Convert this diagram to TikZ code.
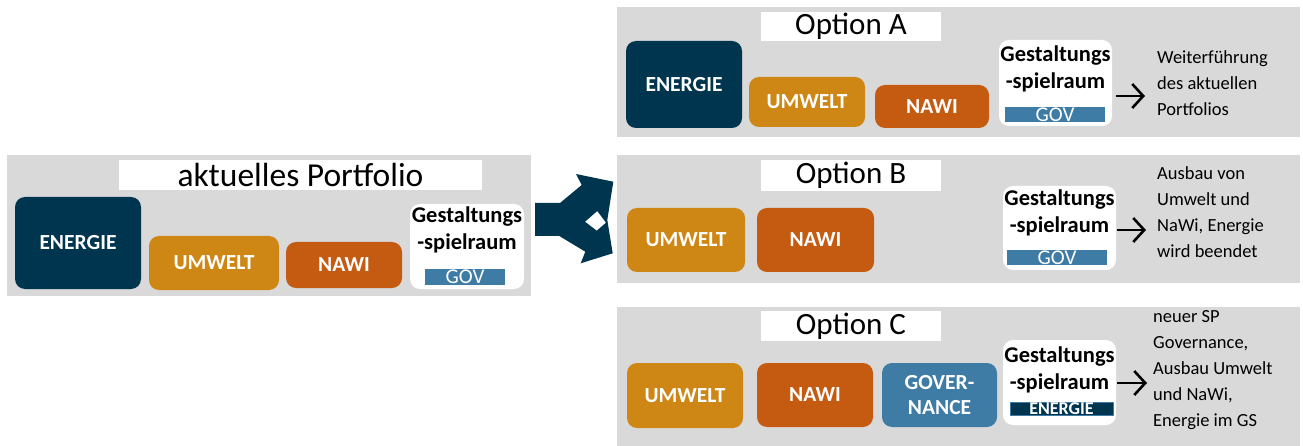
\documentclass[tikz,border=0pt]{standalone}
\usepackage{fontspec}
\setmainfont{Carlito}
\usetikzlibrary{arrows.meta}
\definecolor{navy}{HTML}{003550}
\definecolor{umw}{HTML}{CE8614}
\definecolor{nawi}{HTML}{C55A11}
\definecolor{govc}{HTML}{3E7CA6}
\definecolor{panelc}{HTML}{D9D9D9}
\tikzset{
  panel/.style={fill=panelc, draw=none, inner sep=0, anchor=north west},
  titlebox/.style={fill=white, inner sep=0, minimum width=180, font=\fontsize{31}{33}\selectfont},
  box/.style={rounded corners=10pt, inner sep=0, text=white, font=\bfseries\fontsize{21.5}{25}\selectfont, align=center},
  gsbox/.style={fill=white, rounded corners=10pt, inner sep=0},
  gstext/.style={inner sep=0, align=center, font=\bfseries\fontsize{22.5}{27}\selectfont},
  bar/.style={inner sep=0, text=white, font=\fontsize{21}{21}\selectfont},
  desc/.style={inner sep=0, align=left, anchor=west, font=\fontsize{18.5}{25.8}\selectfont},
  garrow/.style={line width=2.6pt, -{Straight Barb[length=11pt,width=24pt]}}
}
\begin{document}
\begin{tikzpicture}[x=1pt,y=-1pt]
\useasboundingbox (0,0) rectangle (1303,446);
% ---------- left panel ----------
\node[panel, minimum width=524, minimum height=141] (lp) at (7,155) {};
\node[titlebox, minimum width=363, minimum height=30, font=\fontsize{33.5}{35}\selectfont] (lt) at (300.5,175) {aktuelles Portfolio};
\node[box, fill=navy, minimum width=126, minimum height=92] (le) at (78,243) {ENERGIE};
\node[box, fill=umw, minimum width=130, minimum height=54] (lu) at (214,263) {UMWELT};
\node[box, fill=nawi, minimum width=116, minimum height=46] (ln) at (344,265) {NAWI};
\node[gsbox, minimum width=114, minimum height=85] (lg) at (467,246.5) {};
\node[gstext] (lgt) at (467,230) {Gestaltungs\\-spielraum};
\node[bar, fill=govc, minimum width=80, minimum height=16] (lgb) at (465,277) {GOV};
% ---------- split arrow ----------
\fill[navy, even odd rule] (535,203) -- (560,203) -- (581.7,185) -- (576,174) -- (613.3,181.7)
  -- (607.3,220) -- (612.7,253.3) -- (580.7,263.3) -- (585.3,251.7) -- (559.3,236) -- (535,236) -- cycle
  (585,221.7) -- (597.3,211) -- (606,222.7) -- (596.7,230.7) -- cycle;
% ---------- Option A ----------
\node[panel, minimum width=683, minimum height=130] (pa) at (617,7) {};
\node[titlebox, minimum height=29] (ta) at (851,26.5) {Option A};
\node[box, fill=navy, minimum width=116, minimum height=87] (ae) at (684,84.5) {ENERGIE};
\node[box, fill=umw, minimum width=116, minimum height=50] (au) at (807,102) {UMWELT};
\node[box, fill=nawi, minimum width=114, minimum height=43] (an) at (932,106.5) {NAWI};
\node[gsbox, minimum width=113, minimum height=86] (ag) at (1055.5,83) {};
\node[gstext] (agt) at (1055.5,69) {Gestaltungs\\-spielraum};
\node[bar, fill=govc, minimum width=100, minimum height=15] (agb) at (1055,114.5) {GOV};
\node[desc] (ad) at (1157,83) {Weiterführung\\des aktuellen\\Portfolios};
\coordinate (aa1) at (1116,96);
\coordinate (aa2) at (1145,96);
\draw[garrow] (aa1) -- (aa2);
% ---------- Option B ----------
\node[panel, minimum width=683, minimum height=128] (pb) at (617,155) {};
\node[titlebox, minimum height=31] (tb) at (851,175.5) {Option B};
\node[box, fill=umw, minimum width=118, minimum height=64] (bu) at (686,240) {UMWELT};
\node[box, fill=nawi, minimum width=117, minimum height=64] (bn) at (815.5,240) {NAWI};
\node[gsbox, minimum width=113, minimum height=84] (bg) at (1059.5,228) {};
\node[gstext] (bgt) at (1059.5,213) {Gestaltungs\\-spielraum};
\node[bar, fill=govc, minimum width=100, minimum height=15] (bgb) at (1057,257.5) {GOV};
\node[desc] (bd) at (1157,212) {Ausbau von\\Umwelt und\\NaWi, Energie\\wird beendet};
\coordinate (ba1) at (1117,230);
\coordinate (ba2) at (1146,230);
\draw[garrow] (ba1) -- (ba2);
% ---------- Option C ----------
\node[panel, minimum width=683, minimum height=139] (pc) at (617,307) {};
\node[titlebox, minimum height=30] (tc) at (851,326) {Option C};
\node[box, fill=umw, minimum width=116, minimum height=65] (cu) at (685,395.5) {UMWELT};
\node[box, fill=nawi, minimum width=116, minimum height=64] (cn) at (815,395) {NAWI};
\node[box, fill=govc, minimum width=115, minimum height=64] (cg) at (939.5,395) {GOVER-\\NANCE};
\node[gsbox, minimum width=113, minimum height=85] (cgs) at (1059.5,382.5) {};
\node[gstext] (cgt) at (1059.5,370) {Gestaltungs\\-spielraum};
\node[bar, fill=navy, draw=govc, line width=0.6pt, minimum width=103, minimum height=13, font=\bfseries\fontsize{18}{18}\selectfont] (cgb) at (1061.5,408.5) {ENERGIE};
\node[desc] (cd) at (1153,370) {neuer SP\\Governance,\\Ausbau Umwelt\\und NaWi,\\Energie im GS};
\coordinate (ca1) at (1117,383);
\coordinate (ca2) at (1147,383);
\draw[garrow] (ca1) -- (ca2);
\end{tikzpicture}
\end{document}
